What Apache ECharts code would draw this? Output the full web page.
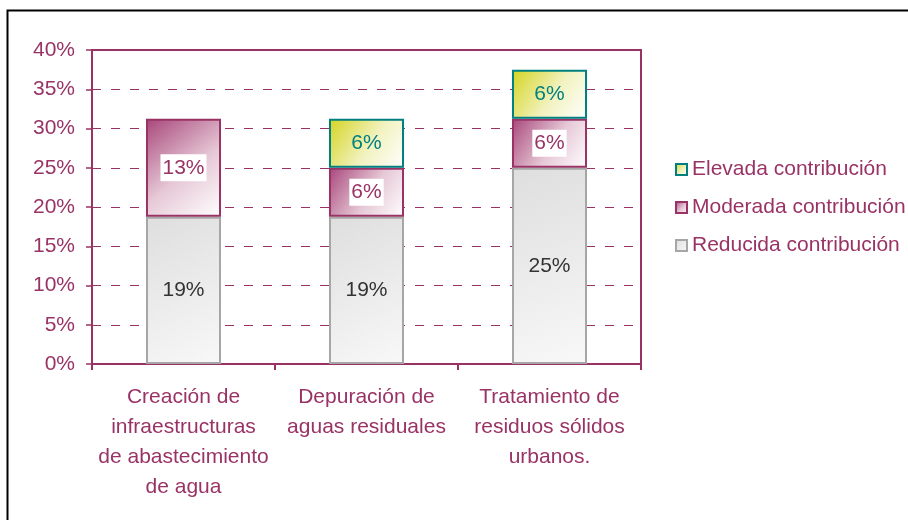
<!DOCTYPE html>
<html>
<head>
<meta charset="utf-8">
<script src="https://cdn.jsdelivr.net/npm/echarts@6/dist/echarts.min.js"></script>
<style>
  html, body { margin: 0; padding: 0; background: #fff; }
  #chart { width: 908px; height: 520px; }
</style>
</head>
<body>
<div id="chart"></div>
<script>
const categories = [
  'Creación de\ninfraestructuras\nde abastecimiento\nde agua',
  'Depuración de\naguas residuales',
  'Tratamiento de\nresiduos sólidos\nurbanos.'
]
const reducida = [18.75, 18.75, 25]
const moderada = [12.5, 6.25, 6.25]
const elevada = [null, 6.25, 6.25]
const seriesNames = ['Reducida contribución', 'Moderada contribución', 'Elevada contribución']

const maroon = '#993366'
const teal = '#008080'
const font = 'Liberation Sans, Arial, sans-serif'

const myChart = echarts.init(document.getElementById('chart'))

const pct = (p) => Math.round(p.value) + '%'

myChart.setOption({
  animation: false,
  textStyle: { fontFamily: font },
  graphic: [
    {
      type: 'rect',
      shape: { x: 7.5, y: 10.5, width: 1000, height: 600 },
      style: { fill: 'none', stroke: '#000', lineWidth: 2 },
      silent: true
    }
  ],
  grid: {
    left: 92, right: 267, top: 50, bottom: 156,
    show: true, borderColor: maroon, borderWidth: 2, backgroundColor: 'transparent'
  },
  legend: {
    orient: 'vertical',
    left: 670, top: 154,
    icon: 'rect',
    itemWidth: 11, itemHeight: 11, itemGap: 17,
    data: [seriesNames[2], seriesNames[1], seriesNames[0]],
    textStyle: { color: maroon, fontSize: 21, fontFamily: font }
  },
  xAxis: {
    type: 'category',
    data: categories,
    axisLine: { lineStyle: { color: maroon, width: 2 } },
    axisTick: { show: true, length: 6, lineStyle: { color: maroon, width: 2 } },
    axisLabel: { color: maroon, fontSize: 21, lineHeight: 30, margin: 18, interval: 0 }
  },
  yAxis: {
    type: 'value',
    min: 0, max: 40, interval: 5,
    axisLine: { show: true, lineStyle: { color: maroon, width: 2 } },
    axisTick: { show: true, length: 6, lineStyle: { color: maroon, width: 1.5 } },
    axisLabel: { color: maroon, fontSize: 21, margin: 17, formatter: '{value}%' },
    splitLine: { lineStyle: { color: maroon, type: [9, 10], width: 1.2 } }
  },
  series: [
    {
      name: seriesNames[0], type: 'bar', stack: 'a', data: reducida, barWidth: '41%',
      itemStyle: {
        color: new echarts.graphic.LinearGradient(0, 0, 1, 1, [
          { offset: 0, color: '#dedede' },
          { offset: 1, color: '#f8f8f8' }
        ]),
        borderColor: '#a6a6a6', borderWidth: 2
      },
      label: { show: true, position: 'inside', color: '#333', fontSize: 21, formatter: pct }
    },
    {
      name: seriesNames[1], type: 'bar', stack: 'a', data: moderada,
      itemStyle: {
        color: new echarts.graphic.LinearGradient(0, 0, 1, 1, [
          { offset: 0, color: '#a8467a' },
          { offset: 0.55, color: '#e6c8d6' },
          { offset: 1, color: '#ffffff' }
        ]),
        borderColor: maroon, borderWidth: 2
      },
      label: {
        show: true, position: 'inside', color: maroon, fontSize: 21, formatter: pct,
        backgroundColor: '#fff', padding: [4, 2, 2, 2]
      }
    },
    {
      name: seriesNames[2], type: 'bar', stack: 'a', data: elevada,
      itemStyle: {
        color: new echarts.graphic.LinearGradient(0, 0, 1, 1, [
          { offset: 0, color: '#d4d420' },
          { offset: 0.55, color: '#f2f2c0' },
          { offset: 1, color: '#ffffff' }
        ]),
        borderColor: teal, borderWidth: 2
      },
      label: { show: true, position: 'inside', color: teal, fontSize: 21, formatter: pct }
    }
  ]
})
</script>
</body>
</html>
